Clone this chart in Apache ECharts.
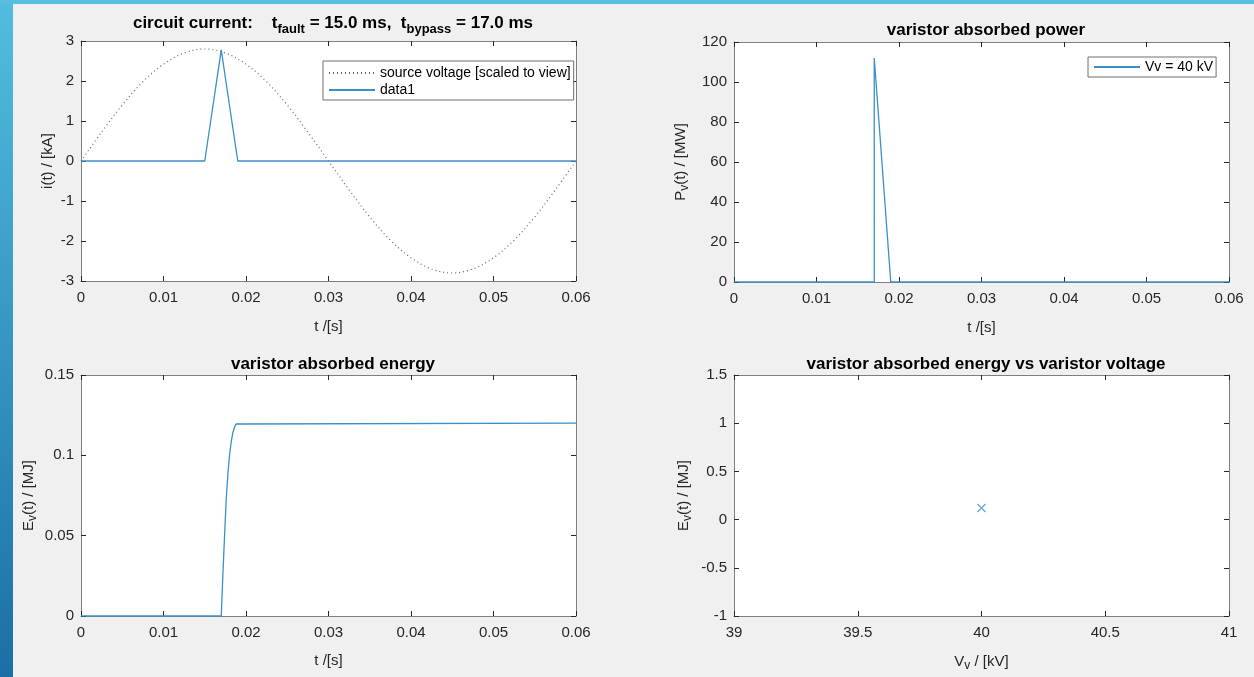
<!DOCTYPE html>
<html>
<head>
<meta charset="utf-8">
<script src="https://cdn.jsdelivr.net/npm/echarts@6/dist/echarts.min.js"></script>
<style>
html,body{margin:0;padding:0;background:#f0f0f0;}
#c{width:1254px;height:677px;}
</style>
</head>
<body>
<div id="c"></div>
<script>
// ---- data ----
var voltTime = [0,0.0025,0.005,0.0075,0.01,0.0125,0.015,0.0175,0.02,0.0225,0.025,0.0275,0.03,0.0325,0.035,0.0375,0.04,0.0425,0.045,0.0475,0.05,0.0525,0.055,0.0575,0.06];
var voltScaled = [0,0.72,1.40,1.98,2.42,2.70,2.80,2.70,2.42,1.98,1.40,0.72,0,-0.72,-1.40,-1.98,-2.42,-2.70,-2.80,-2.70,-2.42,-1.98,-1.40,-0.72,0];
var currTime = [0,0.015,0.017,0.019,0.06];
var currVals = [0,0,2.78,0,0];
var powTime = [0,0.017,0.017,0.019,0.06];
var powVals = [0,0,112,0,0];
var enTime = [0,0.017,0.0172,0.0174,0.0176,0.0178,0.018,0.0182,0.0184,0.0186,0.0188,0.019,0.06];
var enVals = [0,0,0.026,0.05,0.072,0.088,0.1,0.108,0.114,0.1175,0.1195,0.12,0.12];
var vvPoint = [40];
var evPoint = [0.12];

var BLUE = '#3a8fc8';
var TXT = '#262626';
var AX = '#7f7f7f';
var FONT = 'Liberation Sans';

function zip(a,b){var r=[];for(var i=0;i<a.length;i++)r.push([a[i],b[i]]);return r;}

var grids = [
  {left:81, top:41, width:495, height:240},
  {left:734, top:42, width:495, height:240},
  {left:81, top:375, width:495, height:241},
  {left:734, top:375, width:495, height:241}
];
var xCfg = [
  {min:0,max:0.06,interval:0.01,name:'{n|t /[s]}',gap:36},
  {min:0,max:0.06,interval:0.01,name:'{n|t /[s]}',gap:36},
  {min:0,max:0.06,interval:0.01,name:'{n|t /[s]}',gap:35},
  {min:39,max:41,interval:0.5,name:'{n|V}{s|v}{n| / [kV]}',gap:36}
];
var yCfg = [
  {min:-3,max:3,interval:1,name:'{n|i(t) / [kA]}',gap:23},
  {min:0,max:120,interval:20,name:'{n|P}{s|v}{n|(t) / [MW]}',gap:43},
  {min:0,max:0.15,interval:0.05,name:'{n|E}{s|v}{n|(t) / [MJ]}',gap:42},
  {min:-1,max:1.5,interval:0.5,name:'{n|E}{s|v}{n|(t) / [MJ]}',gap:40}
];
var richName = {
  n:{fontSize:15,color:TXT,fontFamily:FONT,lineHeight:20,verticalAlign:'middle'},
  s:{fontSize:12,color:TXT,fontFamily:FONT,lineHeight:10,verticalAlign:'bottom'}
};
var xAxes=[], yAxes=[];
for (var g=0; g<4; g++){
  var xc=xCfg[g], yc=yCfg[g];
  xAxes.push({type:'value',gridIndex:g,position:'bottom',min:xc.min,max:xc.max,interval:xc.interval,
    name:xc.name,nameLocation:'middle',nameGap:xc.gap,
    nameTextStyle:{fontSize:15,color:TXT,fontFamily:FONT,rich:richName},
    axisLine:{show:true,onZero:false,lineStyle:{color:AX,width:1}},
    axisTick:{show:true,inside:true,length:5,lineStyle:{color:TXT}},
    axisLabel:{color:TXT,fontSize:15,fontFamily:FONT,margin:9},
    splitLine:{show:false}});
  xAxes.push({type:'value',gridIndex:g,position:'top',min:xc.min,max:xc.max,interval:xc.interval,
    axisLine:{show:true,onZero:false,lineStyle:{color:AX,width:1}},
    axisTick:{show:true,inside:true,length:5,lineStyle:{color:TXT}},
    axisLabel:{show:false},splitLine:{show:false}});
  yAxes.push({type:'value',gridIndex:g,position:'left',min:yc.min,max:yc.max,interval:yc.interval,
    name:yc.name,nameLocation:'middle',nameGap:yc.gap,
    nameTextStyle:{fontSize:15,color:TXT,fontFamily:FONT,rich:richName},
    axisLine:{show:true,onZero:false,lineStyle:{color:AX,width:1}},
    axisTick:{show:true,inside:true,length:5,lineStyle:{color:TXT}},
    axisLabel:{color:TXT,fontSize:15,fontFamily:FONT,margin:7},
    splitLine:{show:false}});
  yAxes.push({type:'value',gridIndex:g,position:'right',min:yc.min,max:yc.max,interval:yc.interval,
    axisLine:{show:true,onZero:false,lineStyle:{color:AX,width:1}},
    axisTick:{show:true,inside:true,length:5,lineStyle:{color:TXT}},
    axisLabel:{show:false},splitLine:{show:false}});
}
grids.forEach(function(gr){gr.show=true;gr.backgroundColor='#ffffff';gr.borderWidth=0;});

var titleRich = {
  a:{fontSize:17,fontWeight:'bold',color:'#000',fontFamily:FONT,lineHeight:26,verticalAlign:'middle'},
  s:{fontSize:13,fontWeight:'bold',color:'#000',fontFamily:FONT,lineHeight:13,verticalAlign:'bottom'}
};
var titleStyle = {fontSize:17,fontWeight:'bold',color:'#000',fontFamily:FONT};

var option = {
  backgroundColor:'#f0f0f0',
  animation:false,
  title:[
    {text:'{a|circuit current:    t}{s|fault}{a| = 15.0 ms,  t}{s|bypass}{a| = 17.0 ms}',left:328,top:5,textAlign:'center',
      textStyle:{rich:titleRich}},
    {text:'varistor absorbed power',left:981,top:17,textAlign:'center',textStyle:titleStyle},
    {text:'varistor absorbed energy',left:328,top:351,textAlign:'center',textStyle:titleStyle},
    {text:'varistor absorbed energy vs varistor voltage',left:981,top:351,textAlign:'center',textStyle:titleStyle}
  ],
  graphic:[
    {type:'rect',left:0,top:0,shape:{width:13,height:677},style:{fill:new echarts.graphic.LinearGradient(0,0,0,1,[{offset:0,color:'#52bddf'},{offset:1,color:'#1b6fa6'}])}},
    {type:'rect',left:0,top:0,shape:{width:1254,height:4},style:{fill:'#56c0e0'}}
  ],
  legend:[
    {orient:'vertical',left:323,top:61,data:['source voltage [scaled to view]','data1'],
      backgroundColor:'#fff',borderColor:'#6e6e6e',borderWidth:1,borderRadius:0,
      padding:[5,3,3,5],itemGap:3,itemWidth:46,itemHeight:14,
      itemStyle:{opacity:0},
      textStyle:{fontSize:14,color:'#000',fontFamily:FONT}},
    {orient:'vertical',left:1088,top:57,data:['Vv = 40 kV'],
      backgroundColor:'#fff',borderColor:'#6e6e6e',borderWidth:1,borderRadius:0,
      padding:[3,3,3,5],itemGap:2,itemWidth:46,itemHeight:14,
      itemStyle:{opacity:0},
      textStyle:{fontSize:14,color:'#000',fontFamily:FONT}}
  ],
  grid:grids,
  xAxis:xAxes,
  yAxis:yAxes,
  series:[
    {name:'source voltage [scaled to view]',type:'line',xAxisIndex:0,yAxisIndex:0,data:zip(voltTime,voltScaled),
      smooth:0.35,symbol:'none',lineStyle:{color:'#666',width:1.2,type:[1,3]},itemStyle:{color:'#666'}},
    {name:'data1',type:'line',xAxisIndex:0,yAxisIndex:0,data:zip(currTime,currVals),
      symbol:'none',lineStyle:{color:BLUE,width:1.3},itemStyle:{color:BLUE}},
    {name:'Vv = 40 kV',type:'line',xAxisIndex:2,yAxisIndex:2,data:zip(powTime,powVals),
      symbol:'none',lineStyle:{color:BLUE,width:1.3},itemStyle:{color:BLUE}},
    {name:'energy',type:'line',xAxisIndex:4,yAxisIndex:4,data:zip(enTime,enVals),
      symbol:'none',lineStyle:{color:BLUE,width:1.3},itemStyle:{color:BLUE}},
    {name:'point',type:'scatter',xAxisIndex:6,yAxisIndex:6,data:zip(vvPoint,evPoint),
      symbol:'path://M0,0L10,10M10,0L0,10',symbolSize:8,
      itemStyle:{color:'none',borderColor:BLUE,borderWidth:1.2}}
  ]
};
var chart = echarts.init(document.getElementById('c'));
chart.setOption(option);
</script>
</body>
</html>
